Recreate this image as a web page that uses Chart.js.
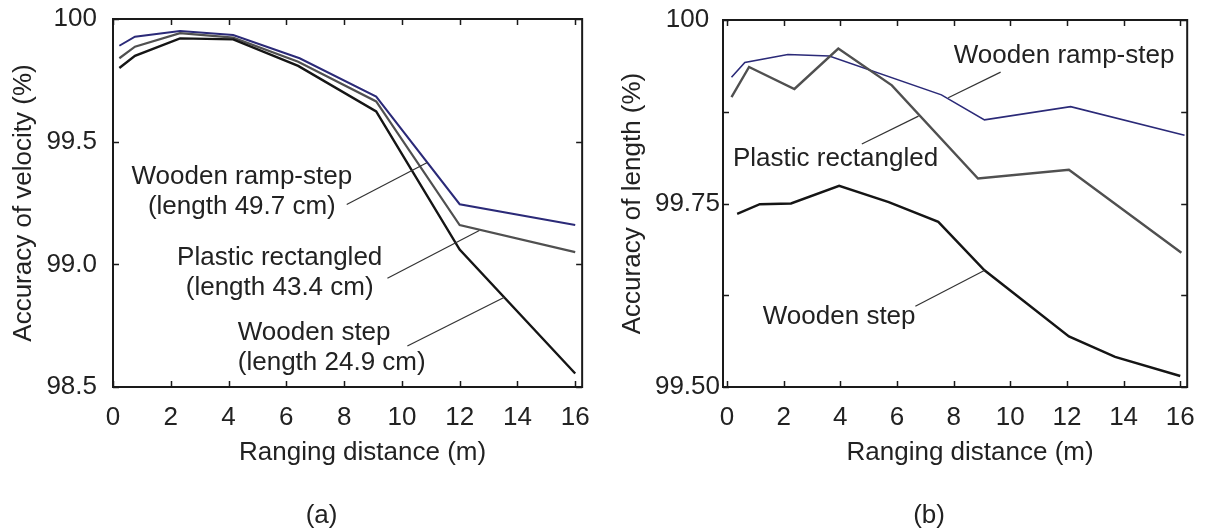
<!DOCTYPE html>
<html>
<head>
<meta charset="utf-8">
<title>Ranging accuracy</title>
<script src="https://cdn.jsdelivr.net/npm/chart.js@4.4.0/dist/chart.umd.min.js"></script>
<style>
  html, body { margin: 0; padding: 0; background: #ffffff; }
  #wrap { position: relative; width: 1210px; height: 531px; overflow: hidden; }
  canvas { position: absolute; top: 0; }
  #ca { left: 0; }
  #cb { left: 605px; }
</style>
</head>
<body>
<div id="wrap">
  <canvas id="ca" width="605" height="531"></canvas>
  <canvas id="cb" width="605" height="531"></canvas>
</div>
<script>
// ---- (a) accuracy of velocity (%) vs ranging distance (m) ----
const velRampX    = [0.22, 0.76, 2.32, 4.16, 6.46, 9.11, 12.0, 16.0];
const velRampY    = [99.891, 99.928, 99.951, 99.935, 99.840, 99.684, 99.245, 99.160];
const velPlasticX = [0.22, 0.76, 2.32, 4.16, 6.41, 9.11, 12.0, 16.0];
const velPlasticY = [99.840, 99.887, 99.942, 99.924, 99.826, 99.664, 99.160, 99.050];
const velStepX    = [0.22, 0.76, 2.32, 4.16, 6.41, 9.11, 12.0, 16.0];
const velStepY    = [99.800, 99.850, 99.921, 99.917, 99.809, 99.623, 99.060, 98.555];

// ---- (b) accuracy of length (%) vs ranging distance (m) ----
const lenRampX    = [0.16, 0.63, 2.15, 3.61, 7.57, 9.09, 12.13, 16.15];
const lenRampY    = [99.922, 99.942, 99.953, 99.951, 99.898, 99.864, 99.882, 99.843];
const lenPlasticX = [0.16, 0.78, 2.38, 3.93, 5.82, 8.86, 12.07, 16.04];
const lenPlasticY = [99.895, 99.936, 99.906, 99.961, 99.911, 99.784, 99.796, 99.683];
const lenStepX    = [0.36, 1.16, 2.26, 3.96, 5.71, 7.46, 9.09, 12.07, 13.7, 16.0];
const lenStepY    = [99.736, 99.749, 99.750, 99.774, 99.752, 99.725, 99.659, 99.569, 99.541, 99.515];

// ---- tick values ----
const distTicks = [0, 2, 4, 6, 8, 10, 12, 14, 16];
const velTicks  = [98.5, 99.0, 99.5, 100];
const lenTicks  = [99.5, 99.625, 99.75, 99.875, 100];

const FONT = '"Liberation Sans", Arial, Helvetica, sans-serif';
const TEXT = '#222222';
const TICK = 6;

const pts = (xs, ys) => xs.map((x, i) => ({ x, y: ys[i] }));
const line = (label, xs, ys, color, w) => ({
  label, data: pts(xs, ys), borderColor: color, backgroundColor: color,
  borderWidth: w, pointRadius: 0, tension: 0, fill: false
});

// Frame, inward ticks, callout labels with leader lines, axis titles
function decor(cfg) {
  return {
    id: 'decor',
    afterDatasetsDraw(chart) {
      const { ctx, chartArea: a, scales: { x, y } } = chart;
      ctx.save();
      ctx.strokeStyle = '#1a1a1a';
      ctx.lineWidth = 2;
      ctx.strokeRect(a.left, a.top, a.right - a.left, a.bottom - a.top);

      ctx.lineWidth = 1.5;
      ctx.beginPath();
      x.ticks.forEach(t => {
        const p = Math.round(x.getPixelForValue(t.value)) + 0.5;
        ctx.moveTo(p, a.bottom); ctx.lineTo(p, a.bottom - TICK);
        ctx.moveTo(p, a.top);    ctx.lineTo(p, a.top + TICK);
      });
      y.ticks.forEach(t => {
        const p = Math.round(y.getPixelForValue(t.value)) + 0.5;
        ctx.moveTo(a.left, p);  ctx.lineTo(a.left + TICK, p);
        ctx.moveTo(a.right, p); ctx.lineTo(a.right - TICK, p);
      });
      ctx.stroke();

      ctx.strokeStyle = '#333333';
      ctx.lineWidth = 1.2;
      cfg.leaders.forEach(l => {
        ctx.beginPath();
        ctx.moveTo(x.getPixelForValue(l.from[0]), y.getPixelForValue(l.from[1]));
        ctx.lineTo(x.getPixelForValue(l.to[0]), y.getPixelForValue(l.to[1]));
        ctx.stroke();
      });

      ctx.fillStyle = TEXT;
      ctx.font = '26px ' + FONT;
      ctx.textBaseline = 'middle';
      cfg.notes.forEach(n => {
        ctx.textAlign = n.align;
        const px = x.getPixelForValue(n.x), py = y.getPixelForValue(n.y);
        n.lines.forEach((s, i) => ctx.fillText(s, px, py + i * 30));
      });

      const cx = (a.left + a.right) / 2;
      ctx.textAlign = 'center';
      ctx.fillText(cfg.xTitle, cx + 15, 453);
      ctx.fillText(cfg.tag, cx - 26, 516);

      ctx.translate(cfg.yTitleX, (a.top + a.bottom) / 2);
      ctx.rotate(-Math.PI / 2);
      ctx.fillText(cfg.yTitle, 0, 0);
      ctx.restore();
    }
  };
}

function options(o) {
  return {
    responsive: false,
    animation: false,
    events: [],
    layout: { padding: { top: o.top, right: o.right, bottom: 0, left: 0 } },
    plugins: { legend: { display: false }, tooltip: { enabled: false }, title: { display: false } },
    scales: {
      x: {
        type: 'linear', min: o.xmin, max: o.xmax,
        afterBuildTicks: s => { s.ticks = distTicks.map(v => ({ value: v })); },
        afterFit: s => { s.height = 531 - 387; },
        grid: { display: false, drawTicks: false },
        border: { display: false },
        ticks: { color: TEXT, font: { family: FONT, size: 26 }, padding: 15, maxRotation: 0,
                 callback: v => String(v) }
      },
      y: {
        type: 'linear', min: o.ymin, max: o.ymax,
        afterBuildTicks: s => { s.ticks = o.yTicks.map(v => ({ value: v })); },
        afterFit: s => { s.width = o.yWidth; s.paddingTop = 0; s.paddingBottom = 0; },
        grid: { display: false, drawTicks: false },
        border: { display: false },
        ticks: { color: TEXT, font: { family: FONT, size: 26 }, padding: o.yPad,
                 crossAlign: o.crossAlign, callback: o.yLabel }
      }
    }
  };
}

new Chart(document.getElementById('ca'), {
  type: 'line',
  data: {
    datasets: [
      line('Wooden step', velStepX, velStepY, '#151515', 2.4),
      line('Plastic rectangled', velPlasticX, velPlasticY, '#505050', 2.2),
      line('Wooden ramp-step', velRampX, velRampY, '#2b2a78', 2.0)
    ]
  },
  options: options({
    top: 19, right: 22, xmin: 0, xmax: 16.24, ymin: 98.5, ymax: 100,
    yTicks: velTicks, yWidth: 113, yPad: 16, crossAlign: 'near',
    yLabel: v => (v === 100 ? '100' : v.toFixed(1))
  }),
  plugins: [decor({
    xTitle: 'Ranging distance (m)', tag: '(a)',
    yTitle: 'Accuracy of velocity (%)', yTitleX: 24,
    notes: [
      { lines: ['Wooden ramp-step', '(length 49.7 cm)'], x: 4.46, y: 99.358, align: 'center' },
      { lines: ['Plastic rectangled', '(length 43.4 cm)'], x: 5.77, y: 99.028, align: 'center' },
      { lines: ['Wooden step', '(length 24.9 cm)'], x: 4.32, y: 98.72, align: 'left' }
    ],
    leaders: [
      { from: [8.09, 99.244], to: [10.88, 99.415] },
      { from: [9.50, 98.943], to: [12.68, 99.138] },
      { from: [10.19, 98.667], to: [13.55, 98.866] }
    ]
  })]
});

new Chart(document.getElementById('cb'), {
  type: 'line',
  data: {
    datasets: [
      line('Wooden step', lenStepX, lenStepY, '#151515', 2.4),
      line('Plastic rectangled', lenPlasticX, lenPlasticY, '#505050', 2.4),
      line('Wooden ramp-step', lenRampX, lenRampY, '#2b2a78', 1.6)
    ]
  },
  options: options({
    top: 20, right: 19, xmin: -0.14, xmax: 16.245, ymin: 99.5, ymax: 100,
    yTicks: lenTicks, yWidth: 118, yPad: 3, crossAlign: 'center',
    yLabel: v => {
      if (Math.abs(v * 4 - Math.round(v * 4)) > 1e-6) return '';
      return v === 100 ? '100' : v.toFixed(2);
    }
  }),
  plugins: [decor({
    xTitle: 'Ranging distance (m)', tag: '(b)',
    yTitle: 'Accuracy of length (%)', yTitleX: 28,
    notes: [
      { lines: ['Wooden ramp-step'], x: 11.90, y: 99.951, align: 'center' },
      { lines: ['Plastic rectangled'], x: 0.21, y: 99.811, align: 'left' },
      { lines: ['Wooden step'], x: 3.96, y: 99.595, align: 'center' }
    ],
    leaders: [
      { from: [9.66, 99.929], to: [7.81, 99.894] },
      { from: [4.76, 99.831], to: [6.76, 99.869] },
      { from: [6.65, 99.610], to: [9.10, 99.659] }
    ]
  })]
});
</script>
</body>
</html>
